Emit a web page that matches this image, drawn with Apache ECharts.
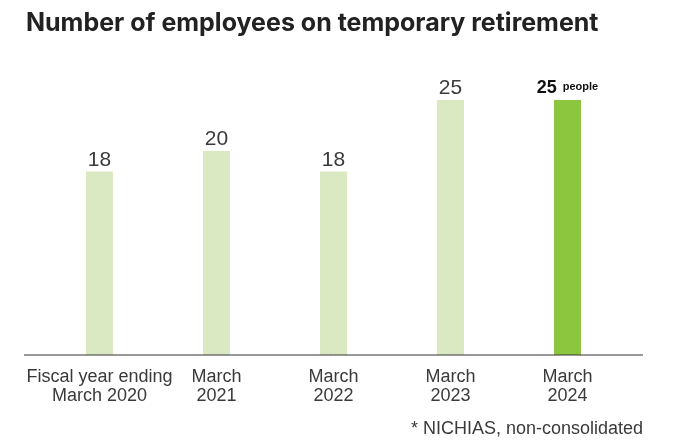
<!DOCTYPE html>
<html>
<head>
<meta charset="utf-8">
<script src="https://cdn.jsdelivr.net/npm/echarts@6/dist/echarts.min.js"></script>
<style>
  html, body { margin: 0; padding: 0; background: #fff; }
  #chart { width: 678px; height: 440px; }
</style>
</head>
<body>
<div id="chart"></div>
<script>
// Employees on temporary retirement, by fiscal year
const categories = [
  'Fiscal year ending\nMarch 2020',
  'March\n2021',
  'March\n2022',
  'March\n2023',
  'March\n2024'
];
const employees = [18, 20, 18, 25, 25];
const unitLabel = 'people';

const lightGreen = '#dbe9c3';
const darkGreen = '#8cc63f';
const lastIndex = employees.length - 1;
const font = 'Liberation Sans, Arial, sans-serif';

const chart = echarts.init(document.getElementById('chart'), null, { renderer: 'canvas' });

const gridLeft = 41, gridWidth = 585, gridBottom = 85, gridTop = 100;

chart.setOption({
  animation: false,
  title: {
    text: 'Number of employees on temporary retirement',
    left: 21,
    top: 6,
    textStyle: {
      fontFamily: 'Inter, Liberation Sans, sans-serif',
      fontSize: 25,
      fontWeight: 700,
      color: '#222'
    }
  },
  grid: { left: gridLeft, width: gridWidth, bottom: gridBottom, top: gridTop },
  xAxis: {
    type: 'category',
    data: categories,
    axisLine: { show: false },
    axisTick: { show: false },
    axisLabel: {
      margin: 13,
      fontFamily: font,
      fontSize: 18,
      lineHeight: 19,
      color: '#3a3a3a',
      interval: 0
    }
  },
  yAxis: {
    type: 'value',
    min: 0,
    max: 25,
    show: false,
    splitLine: { show: false }
  },
  series: [{
    type: 'bar',
    barWidth: 27,
    data: employees.map((v, i) => ({
      value: v,
      itemStyle: { color: i === lastIndex ? darkGreen : lightGreen },
      label: i === lastIndex ? {
        formatter: '{b|{c}} {u|' + unitLabel + '}'
      } : {}
    })),
    label: {
      show: true,
      position: 'top',
      distance: 1,
      fontFamily: font,
      fontSize: 21,
      color: '#3a3a3a',
      rich: {
        b: {
          fontFamily: font,
          fontSize: 18,
          fontWeight: 'bold',
          color: '#111'
        },
        u: {
          fontFamily: font,
          fontSize: 11,
          fontWeight: 'bold',
          color: '#111',
          padding: [0, 0, 3, 0]
        }
      }
    }
  }],
  graphic: [
    {
      type: 'line',
      shape: { x1: 24, y1: 440 - gridBottom, x2: 643, y2: 440 - gridBottom },
      style: { stroke: '#333', lineWidth: 1 },
      z: 10
    },
    {
      type: 'text',
      right: 35,
      top: 420,
      style: {
        text: '* NICHIAS, non-consolidated',
        fontFamily: font,
        fontSize: 18,
        fill: '#3a3a3a'
      }
    }
  ]
});
</script>
</body>
</html>
